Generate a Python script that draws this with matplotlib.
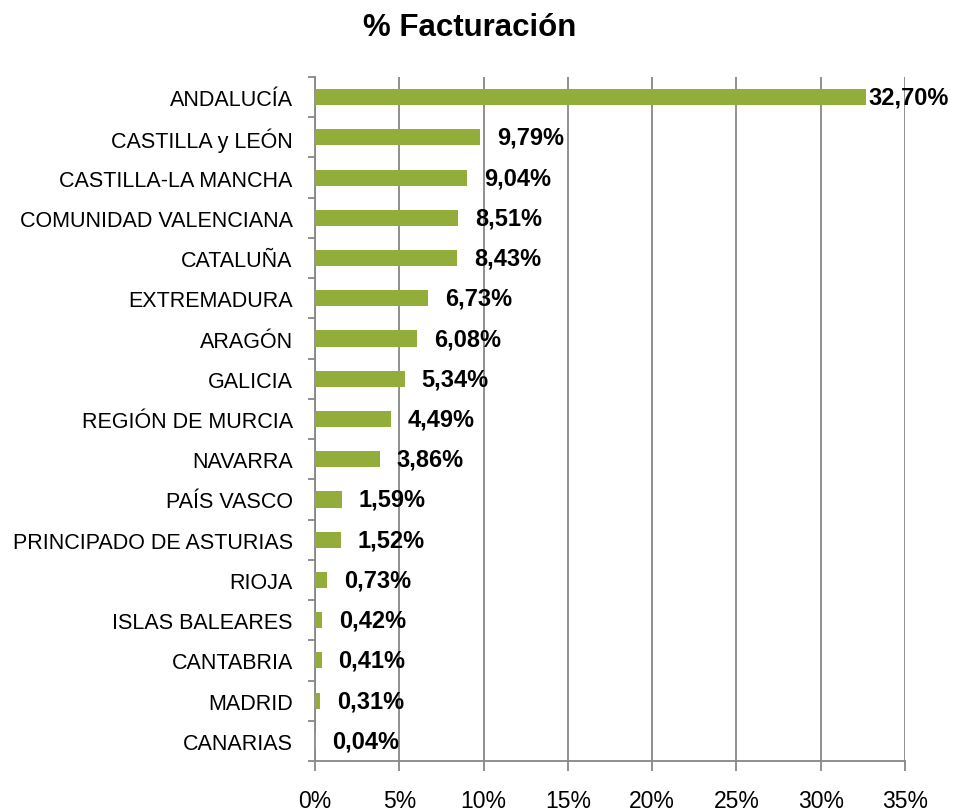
import matplotlib
matplotlib.use("Agg")
import matplotlib.pyplot as plt
import numpy as np

categories = ["ANDALUCÍA", "CASTILLA y LEÓN", "CASTILLA-LA MANCHA", "COMUNIDAD VALENCIANA",
              "CATALUÑA", "EXTREMADURA", "ARAGÓN", "GALICIA", "REGIÓN DE MURCIA", "NAVARRA",
              "PAÍS VASCO", "PRINCIPADO DE ASTURIAS", "RIOJA", "ISLAS BALEARES", "CANTABRIA",
              "MADRID", "CANARIAS"]
values = [32.70, 9.79, 9.04, 8.51, 8.43, 6.73, 6.08, 5.34, 4.49, 3.86,
          1.59, 1.52, 0.73, 0.42, 0.41, 0.31, 0.04]
xticks = [0, 5, 10, 15, 20, 25, 30, 35]
xtick_labels = ["0%", "5%", "10%", "15%", "20%", "25%", "30%", "35%"]
title = "% Facturación"

plt.rcParams['font.family'] = ['Liberation Sans', 'DejaVu Sans']

fig = plt.figure(figsize=(9.55, 8.12), dpi=100)
ax = fig.add_axes([315/955, 1-762/812, 590/955, 684/812])

n = len(categories)
y = np.arange(n)
bar_color = "#93AD3B"
grid_color = "#878787"

ax.barh(y, values, height=0.4, color=bar_color, zorder=3)
ax.set_ylim(n - 0.5, -0.5)
ax.set_xlim(0, 35)

ax.set_xticks(xticks)
ax.set_xticklabels(xtick_labels, fontsize=16.5)
ax.set_yticks(y)
ax.set_yticklabels(categories, fontsize=15.5)
ax.set_yticks(np.arange(-0.5, n, 1), minor=True)
ax.tick_params(axis='y', which='major', length=0, pad=16)
ax.tick_params(axis='y', which='minor', length=5, width=1.3, color=grid_color, direction='out')
ax.tick_params(axis='x', which='major', length=7, width=1.3, color=grid_color, direction='out', pad=13)

for s in ['top', 'right']:
    ax.spines[s].set_visible(False)
for s in ['left', 'bottom']:
    ax.spines[s].set_color(grid_color)
    ax.spines[s].set_linewidth(1.3)

ax.xaxis.grid(True, color=grid_color, linewidth=1.3, zorder=0)
ax.set_axisbelow(True)

for i, v in enumerate(values):
    txt = f"{v:.2f}".replace(".", ",") + "%"
    off = 1.5 if v > 30 else 12
    ax.annotate(txt, xy=(v, i), xytext=(off, 0), textcoords='offset points',
                ha='left', va='center', fontsize=17, fontweight='bold', color='black',
                zorder=5, annotation_clip=False)

fig.text(470/955, 1-28/812, title, ha='center', va='center', fontsize=22.5, fontweight='bold')

fig.savefig("out.png", dpi=100)
